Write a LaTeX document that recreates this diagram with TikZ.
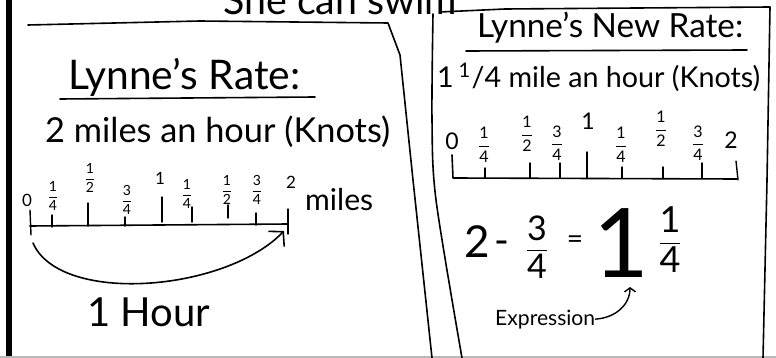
\documentclass[tikz,border=0pt]{standalone}
\usepackage{amsmath}
\usepackage{graphicx}
\usepackage{fontspec}
\setmainfont{Lato}
\usetikzlibrary{arrows.meta}
\newcommand{\fitw}[2]{\resizebox{#1}{!}{#2}}
\newcommand{\hfr}[2]{$\dfrac{\text{#1}}{\text{#2}}$}
\begin{document}
\begin{tikzpicture}[x=1pt,y=-1pt, line cap=round, line join=round,
  ink/.style={draw=black, line width=1.6pt},
  tickln/.style={draw=black, line width=1.4pt},
  lbl/.style={inner sep=0pt, anchor=base west},
  fr/.style={inner sep=0pt, font=\fontsize{14}{15}\selectfont},
  frR/.style={inner sep=0pt, font=\fontsize{16}{17}\selectfont},
  num/.style={inner sep=0pt, font=\fontsize{17}{18}\selectfont},
  numR/.style={inner sep=0pt, font=\fontsize{23}{24}\selectfont},
  big/.style={inner sep=0pt, anchor=base},
  barb/.style={-{Straight Barb[length=10pt,width=22pt,line width=1.6pt]}},
  smallbarb/.style={-{Straight Barb[length=4pt,width=11pt,line width=1.4pt]}}
]
\useasboundingbox (0,0) rectangle (776,358);
\fill[white] (0,0) rectangle (776,358);
% title (cut off at top, as in the reference)
\begin{scope}
\clip (0,0) rectangle (776,358);
\node[lbl] (title) at (223,15) {\fitw{234pt}{She can swim}};
\end{scope}
% frame lines
\draw[black, line width=6pt] (8.5,0) -- (8.5,358);
\draw[gray!55, line width=2pt] (0,357) -- (776,357);
\draw[ink] (28,25) -- (200,21) -- (388,23) -- (400,55) -- (413,180) -- (432,358);
\draw[ink] plot[smooth] coordinates {(433,14) (432,120) (436,200) (462,358)};
\draw[ink] (440,12) -- (505,9) -- (770,7) -- (767,180) -- (763,358);

% ---------- left panel ----------
\node[lbl] (lrate) at (68,90) {\fitw{232pt}{Lynne's Rate:}};
\draw[ink] (60,99) -- (315,97);
\node[lbl] (lspeed) at (45,143) {\fitw{345pt}{2 miles an hour (Knots)}};

\draw[ink] (30,226) -- (288,224);
\draw[tickln] (30,210) -- (31,235);
\draw[tickln] (288,209) -- (288,234);
\draw[tickln] (52,215) -- (52,227);
\draw[tickln] (88,203) -- (88,226);
\draw[tickln] (125,217) -- (125,226);
\draw[tickln] (162,197) -- (162,222);
\draw[tickln] (192,207) -- (192,222);
\draw[tickln] (228,205) -- (228,218);
\draw[tickln] (256,213) -- (256,225);

\node[num] (l0) at (27,200) {0};
\node[fr] (lq1) at (53,196) {\hfr{1}{4}};
\node[fr] (lh1) at (90,178) {\hfr{1}{2}};
\node[fr] (lt1) at (127,200) {\hfr{3}{4}};
\node[num] (l1) at (160,178) {1};
\node[fr] (lq2) at (187,194) {\hfr{1}{4}};
\node[fr] (lh2) at (227,190) {\hfr{1}{2}};
\node[fr] (lt2) at (257,190) {\hfr{3}{4}};
\node[num] (l2) at (291,182) {2};
\node[lbl] (lmiles) at (305,211) {\fitw{68pt}{miles}};

\coordinate (arcS) at (33,243);
\coordinate (arcE) at (284,231);
\draw[ink, barb] (arcS) .. controls (60,305) and (225,292) .. (arcE);
\node[lbl] (hour) at (87,326) {\fitw{123pt}{1 Hour}};

% ---------- right panel ----------
\node[lbl] (nrate) at (477,38) {\fitw{266pt}{Lynne's New Rate:}};
\draw[ink] (466,51) -- (747,50);
\node[lbl] (nspeed) at (437,88) {\fitw{323pt}{1\,\textsuperscript{1}/4 mile an hour (Knots)}};

\draw[ink] (452,155) -- (453,178) -- (737,179);
\draw[tickln] (736,161) -- (738,180);
\draw[tickln] (485,168) -- (485,178);
\draw[tickln] (530,163) -- (530,178);
\draw[tickln] (560,163) -- (560,178);
\draw[tickln] (587,152) -- (587,178);
\draw[tickln] (622,167) -- (622,178);
\draw[tickln] (663,167) -- (663,178);
\draw[tickln] (702,163) -- (702,178);

\node[numR] (r0) at (452,141) {0};
\node[frR] (rq1) at (484,145) {\hfr{1}{4}};
\node[frR] (rh1) at (527,134) {\hfr{1}{2}};
\node[frR] (rt1) at (557,143) {\hfr{3}{4}};
\node[numR] (r1) at (588,121) {1};
\node[frR] (rq2) at (621,145) {\hfr{1}{4}};
\node[frR] (rh2) at (661,129) {\hfr{1}{2}};
\node[frR] (rt2) at (698,143) {\hfr{3}{4}};
\node[numR] (r2) at (731,140) {2};

% equation
\node[big, font=\fontsize{44}{44}\selectfont] (eqtwo) at (477,257) {2};
\node[big, font=\fontsize{40}{40}\selectfont] (eqminus) at (502,254) {-};
\node[inner sep=0pt, font=\fontsize{34}{34}\selectfont] (eqfrac) at (537,247) {\hfr{3}{4}};
\node[big, font=\fontsize{28}{28}\selectfont] (eqeq) at (575,248) {=};
\node[big, font=\fontsize{96}{96}\selectfont] (eqone) at (621,277) {1};
\node[inner sep=0pt, font=\fontsize{36}{36}\selectfont] (eqfrac2) at (670,240) {\hfr{1}{4}};

\node[lbl] (expr) at (495,325) {\fitw{100pt}{Expression}};
\coordinate (exprtip) at (630,287);
\draw[ink, line width=1.4pt, smallbarb] (expr.east) .. controls (615,318) and (630,305) .. (exprtip);
\end{tikzpicture}
\end{document}
